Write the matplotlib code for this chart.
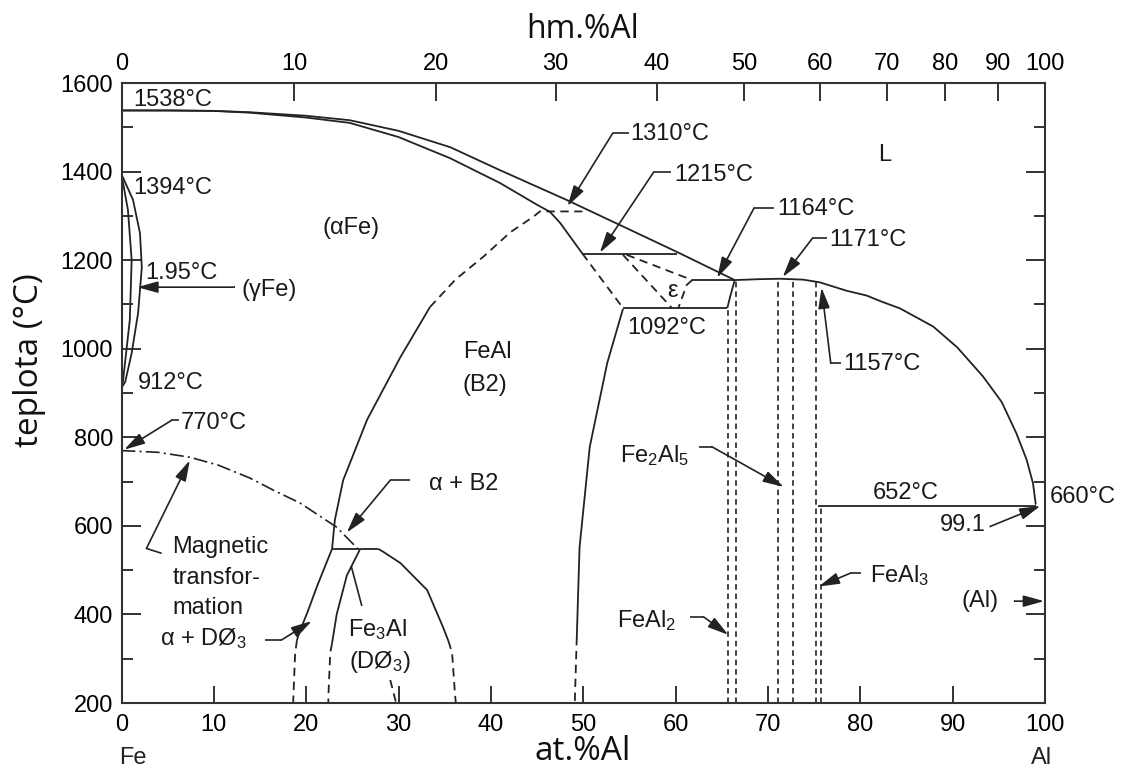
import matplotlib
matplotlib.use('Agg')
from matplotlib import pyplot as plt
import numpy as np

plt.rcParams['font.family'] = ['Liberation Sans', 'DejaVu Sans']
plt.rcParams['mathtext.fontset'] = 'custom'
plt.rcParams['mathtext.rm'] = 'Liberation Sans'
plt.rcParams['mathtext.it'] = 'Liberation Sans:italic'
plt.rcParams['lines.scale_dashes'] = False

INK = '#222222'
FS = 17

# data: at.% Al, temperature in C
liq_at = [0, 5, 10, 13.9, 20, 24.7, 30, 35.6, 41.0, 48.2, 54.0, 60.2, 66.4]
liq_T = [1538, 1538, 1537, 1534, 1526, 1516, 1492, 1455, 1403, 1336, 1279, 1218, 1155]

sol_at = [0, 5, 10, 13.9, 20, 24.7, 30, 35.6, 41.0, 45.0, 46.4, 47.5, 49.9]
sol_T = [1538, 1538, 1537, 1533, 1522, 1510, 1478, 1430, 1374, 1325, 1309, 1284, 1215]

gam_out_at = [0, 1.25, 2.0, 2.2, 1.8, 1.1, 0.4, 0]
gam_out_T = [1394, 1336, 1261, 1184, 1081, 990, 925, 912]
gam_in_at = [0, 0.7, 1.1, 0.9, 0.15, 0]
gam_in_T = [1394, 1313, 1200, 1065, 925, 912]

# A2/B2 ordering boundary
b2_at = [22.8, 23.1, 24.0, 26.6, 30.2, 33.4]
b2_T = [548, 613, 703, 840, 981, 1094]
b2d_at = [33.4, 36.2, 39.2, 42.1, 44.6, 45.3, 49.9]
b2d_T = [1094, 1157, 1208, 1263, 1298, 1310, 1310]

# magnetic transformation
mag_at = [0, 4, 7.4, 10.5, 13.9, 16.5, 19.3, 23.3, 25.6]
mag_T = [770, 766, 755, 737, 708, 680, 652, 597, 548]

trip_at = [22.8, 27.8]
trip_T = [548, 548]

d03r_at = [27.8, 28.3, 30.2, 33.1, 34.8, 35.4]
d03r_T = [548, 542, 516, 455, 372, 340]
d03rd_at = [35.4, 35.8, 36.1, 36.2]
d03rd_T = [340, 313, 223, 200]

d03l_at = [25.8, 24.4, 23.3, 22.8]
d03l_T = [546, 488, 400, 335]
d03ld_at = [22.8, 22.6, 22.4, 22.4]
d03ld_T = [335, 313, 214, 200]

alf_at = [22.8, 21.2, 20.1, 19.3, 19.0]
alf_T = [548, 465, 403, 362, 342]
alfd_at = [19.0, 18.8, 18.6, 18.6]
alfd_T = [342, 312, 207, 200]

short_at = [29.1, 29.7]
short_T = [252, 203]

# FeAl right side and epsilon region
b2r_at = [54.3, 52.6, 50.7, 49.6, 49.3]
b2r_T = [1090, 968, 778, 552, 349]
b2rd_at = [49.3, 49.1, 49.1]
b2rd_T = [349, 214, 200]

eut_at = [54.3, 65.6]
eut_T = [1092, 1092]
per_at = [49.9, 60.2]
per_T = [1215, 1215]
epsA_at = [49.9, 54.3]
epsA_T = [1215, 1092]
epsB_at = [54.3, 59.6]
epsB_T = [1212, 1092]
epsC_at = [54.7, 61.8]
epsC_T = [1212, 1155]
epsD_at = [61.8, 61.2, 60.3]
epsD_T = [1155, 1144, 1092]
p1164_at = [61.8, 66.4]
p1164_T = [1155, 1155]
feal2_at = [65.6, 65.9, 66.4]
feal2_T = [1092, 1117, 1155]

# Al-rich liquidus
alliq_at = [66.4, 69, 71.3, 73.8, 75.6, 78.5, 80.7, 82.1, 84.3, 87.9, 90.5, 93.3, 95.3, 96.9, 98.0, 98.7, 99.0]
alliq_T = [1155, 1157, 1158, 1156, 1150, 1131, 1120, 1108, 1091, 1050, 1003, 937, 880, 809, 750, 696, 648]
e652_at = [75.4, 99.0]
e652_T = [645, 645]

vert_at = [65.7, 66.5, 71.1, 72.7, 75.2, 75.7]
vert_top = [1092, 1155, 1158, 1156, 1150, 645]

wt_ticks = [0, 10, 20, 30, 40, 50, 60, 70, 80, 90, 100]


def wt_to_at(w):
    w = np.asarray(w, dtype=float)
    a = w / 26.98
    f = (100 - w) / 55.845
    return 100 * a / (a + f)


fig = plt.figure(figsize=(11.25, 7.7), dpi=100)
ax = fig.add_axes([0.108, 0.087, 0.8209, 0.8052])
ax.set_xlim(0, 100)
ax.set_ylim(200, 1600)

solid = dict(color=INK, lw=1.3, solid_capstyle='butt')
dash = dict(color=INK, lw=1.3, ls=(0, (6, 4)))

ax.plot(liq_at, liq_T, **solid)
ax.plot(sol_at, sol_T, **solid)
ax.plot(gam_out_at, gam_out_T, **solid)
ax.plot(gam_in_at, gam_in_T, **solid)
ax.plot(b2_at, b2_T, **solid)
ax.plot(b2d_at, b2d_T, **dash)
ax.plot(mag_at, mag_T, color=INK, lw=1.2, ls=(0, (10, 3, 1.5, 3)))
ax.plot(trip_at, trip_T, **solid)
ax.plot(d03r_at, d03r_T, **solid)
ax.plot(d03rd_at, d03rd_T, **dash)
ax.plot(d03l_at, d03l_T, **solid)
ax.plot(d03ld_at, d03ld_T, **dash)
ax.plot(alf_at, alf_T, **solid)
ax.plot(alfd_at, alfd_T, **dash)
ax.plot(short_at, short_T, **dash)
ax.plot(b2r_at, b2r_T, **solid)
ax.plot(b2rd_at, b2rd_T, **dash)
ax.plot(eut_at, eut_T, **solid)
ax.plot(per_at, per_T, **solid)
for xs, ts in [(epsA_at, epsA_T), (epsB_at, epsB_T), (epsC_at, epsC_T), (epsD_at, epsD_T)]:
    ax.plot(xs, ts, **dash)
ax.plot(p1164_at, p1164_T, **solid)
ax.plot(feal2_at, feal2_T, **solid)
ax.plot(alliq_at, alliq_T, **solid)
ax.plot(e652_at, e652_T, **solid)
ax.vlines(vert_at, 200, vert_top, colors=INK, lw=1.2, linestyles=[(0, (4, 2.8))])

# axes, ticks
for s in ax.spines.values():
    s.set_linewidth(1.5)
    s.set_color('#333333')
ax.set_xticks(np.arange(0, 101, 10))
ax.set_yticks(np.arange(200, 1601, 200))
ax.set_yticks(np.arange(300, 1600, 200), minor=True)
ax.tick_params(axis='x', direction='in', length=12, width=1.4, labelsize=FS, pad=8, color='#333333')
ax.tick_params(axis='y', which='major', direction='in', length=14, width=1.4, labelsize=FS,
               pad=6, right=True, color='#333333')
ax.tick_params(axis='y', which='minor', direction='in', length=8, width=1.4, right=True, color='#333333')

top = ax.twiny()
top.set_xlim(0, 100)
top.set_xticks(wt_to_at(wt_ticks))
top.set_xticklabels([str(w) for w in wt_ticks])
top.tick_params(direction='in', length=13, width=1.4, labelsize=FS, pad=6, color='#333333')
for s in top.spines.values():
    s.set_visible(False)

fig.text(583 / 1125, 1 - 752 / 770, 'at.%Al', ha='center', va='center', fontsize=24,
         family=['Open Sans', 'DejaVu Sans'], color='#111111')
fig.text(583 / 1125, 1 - 30 / 770, 'hm.%Al', ha='center', va='center', fontsize=23,
         family=['Open Sans', 'DejaVu Sans'], color='#111111')
fig.text(30 / 1125, 1 - 360 / 770, 'teplota (°C)', ha='center', va='center', rotation=90,
         fontsize=24, family=['Open Sans', 'DejaVu Sans'], color='#111111')
fig.text(119 / 1125, 1 - 758 / 770, 'Fe', ha='left', va='center', fontsize=FS, color='#222222')
fig.text(1042 / 1125, 1 - 758 / 770, 'Al', ha='center', va='center', fontsize=FS, color='#222222')

tx = dict(fontsize=FS, color='#1a1a1a')


def label(x, y, s, ha='left', va='center'):
    ax.text(x, y, s, ha=ha, va=va, clip_on=False, **tx)


def leader(pts, tip):
    xs = [p[0] for p in pts]
    ys = [p[1] for p in pts]
    ax.plot(xs, ys, color=INK, lw=1.2, solid_capstyle='butt')
    ax.annotate('', xy=tip, xytext=pts[-1],
                arrowprops=dict(arrowstyle='-|>,head_length=0.9,head_width=0.25', color=INK, lw=1.2,
                                shrinkA=0, shrinkB=0, mutation_scale=14))


label(1.25, 1561, '1538°C')
label(1.3, 1364, '1394°C')
label(2.6, 1172, '1.95°C')
label(1.8, 922, '912°C')
label(24.9, 1272, '(αFe)', ha='center')
label(39.6, 992, 'FeAl', ha='center')
label(39.3, 918, '(B2)', ha='center')
label(82.6, 1437, 'L', ha='center')
label(54.8, 1047, '1092°C')
label(59.7, 1130, 'ε', ha='center')
label(81.3, 674, '652°C')
label(100.5, 665, '660°C')

label(13.0, 1132, '(γFe)')
leader([(12.3, 1139), (12.2, 1139)], (1.7, 1139))

label(55.1, 1485, '1310°C')
leader([(55.0, 1487), (53.2, 1487)], (48.3, 1322))
label(59.8, 1392, '1215°C')
leader([(59.5, 1398), (57.6, 1398)], (51.8, 1217))
label(71.0, 1315, '1164°C')
leader([(70.7, 1318), (68.5, 1318)], (64.5, 1160))
label(76.6, 1245, '1171°C')
leader([(76.4, 1249), (74.8, 1249)], (71.6, 1162))
label(78.1, 965, '1157°C')
leader([(77.9, 967), (76.8, 967)], (75.8, 1138))
label(6.4, 832, '770°C')
leader([(6.2, 838), (5.4, 838)], (0.3, 772))

ax.text(5.5, 483, 'Magnetic\ntransfor-\nmation', ha='left', va='center', linespacing=1.5, **tx)
leader([(4.35, 538), (2.7, 549)], (7.4, 748))

label(33.3, 695, 'α + B2')
leader([(31.2, 703), (29.1, 703)], (24.4, 585))

ax.text(4.2, 330, 'α + DØ$_3$', ha='left', va='baseline', **tx)
leader([(15.5, 342), (17.3, 342)], (20.6, 385))

ax.text(24.5, 350, 'Fe$_3$Al', ha='left', va='baseline', **tx)
ax.text(24.6, 279, '(DØ$_3$)', ha='left', va='baseline', **tx)
ax.plot([24.9, 26.0], [507, 421], color=INK, lw=1.2)

ax.text(54.0, 745, 'Fe$_2$Al$_5$', ha='left', va='baseline', **tx)
leader([(62.5, 779), (63.9, 779)], (71.7, 688))
ax.text(53.6, 372, 'FeAl$_2$', ha='left', va='baseline', **tx)
leader([(61.6, 395), (63.0, 395)], (65.7, 354))
ax.text(81.0, 474, 'FeAl$_3$', ha='left', va='baseline', **tx)
leader([(80.1, 493), (78.9, 493)], (75.5, 463))

label(91.0, 430, '(Al)')
leader([(96.6, 430), (96.7, 430)], (99.9, 430))
label(88.6, 602, '99.1')
leader([(94.0, 598), (94.1, 599)], (99.5, 645))

fig.savefig('out.png', dpi=100)
